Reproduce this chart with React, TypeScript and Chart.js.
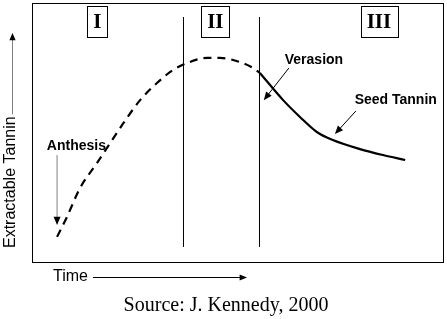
import React, { useEffect, useRef } from "react";
import { Chart, registerables } from "chart.js";

Chart.register(...registerables);

// Curve data (x: time 0-100, y: extractable tannin 0-100)
const dashedX = [6.1, 8.5, 11.7, 15.8, 19.0, 22.1, 26.3, 30.4, 34.3, 37.7, 42.6, 45.7, 50.6, 53.8, 55.5];
const dashedY = [9.7, 17.4, 28.6, 38.2, 45.9, 53.3, 62.5, 69.1, 74.1, 76.8, 78.8, 78.8, 77.2, 74.9, 72.9];
const solidX = [55.5, 61.1, 65.2, 69.3, 73.2, 79.8, 85.4, 90.8];
const solidY = [72.9, 62.5, 56.0, 50.2, 47.1, 43.6, 41.3, 39.4];

// Stage boundaries
const stageX = [36.86, 55.35];
const stageYRange = [5.8, 94.6];

// Stage labels
const stageLabels = ["I", "II", "III"];
const stageLabelX = [15.9, 44.6, 84.4];
const stageLabelY = 92.7;

// Annotations: text, text position, arrow from, arrow to
const noteText = ["Anthesis", "Verasion", "Seed Tannin"];
const noteX = [10.8, 68.6, 98.5];
const noteY = [44.8, 78.0, 62.5];
const noteAlign = ["center", "center", "right"];
const arrowFromX = [6.1, 62.5, 78.8];
const arrowFromY = [41.3, 74.9, 58.3];
const arrowToX = [6.1, 56.4, 73.7];
const arrowToY = [14.3, 62.5, 49.4];
const arrowColor = ["#808080", "#000000", "#000000"];

const yTitle = "Extractable Tannin";
const xTitle = "Time";
const sourceText = "Source: J. Kennedy, 2000";

function arrow(ctx: CanvasRenderingContext2D, x1: number, y1: number, x2: number, y2: number, color: string, head = 8) {
  const ang = Math.atan2(y2 - y1, x2 - x1);
  ctx.save();
  ctx.strokeStyle = color;
  ctx.lineWidth = 1;
  ctx.beginPath();
  ctx.moveTo(x1, y1);
  ctx.lineTo(x2 - Math.cos(ang) * head * 0.8, y2 - Math.sin(ang) * head * 0.8);
  ctx.stroke();
  ctx.fillStyle = "#000";
  ctx.beginPath();
  ctx.moveTo(x2, y2);
  ctx.lineTo(x2 - head * Math.cos(ang - 0.4), y2 - head * Math.sin(ang - 0.4));
  ctx.lineTo(x2 - head * Math.cos(ang + 0.4), y2 - head * Math.sin(ang + 0.4));
  ctx.closePath();
  ctx.fill();
  ctx.restore();
}

const annotPlugin = {
  id: "annot",
  beforeDraw(chart: any) {
    const { ctx, width, height } = chart;
    ctx.save();
    ctx.fillStyle = "#fff";
    ctx.fillRect(0, 0, width, height);
    ctx.restore();
  },
  afterDraw(chart: any) {
    const { ctx, chartArea } = chart;
    const xs = chart.scales.x;
    const ys = chart.scales.y;
    const { left, top, right, bottom } = chartArea;
    ctx.save();
    // frame
    ctx.strokeStyle = "#000";
    ctx.lineWidth = 1;
    ctx.strokeRect(Math.round(left) + 0.5, Math.round(top) + 0.5, Math.round(right - left), Math.round(bottom - top));

    // stage labels in boxes
    ctx.font = "bold 21px 'Liberation Serif', 'Times New Roman', serif";
    ctx.textAlign = "center";
    ctx.textBaseline = "middle";
    stageLabels.forEach((s, i) => {
      const cx = xs.getPixelForValue(stageLabelX[i]);
      const cy = ys.getPixelForValue(stageLabelY);
      const w = ctx.measureText(s).width + 12;
      const h = 31;
      ctx.fillStyle = "#fff";
      ctx.fillRect(cx - w / 2, cy - h / 2, w, h);
      ctx.strokeRect(Math.round(cx - w / 2) + 0.5, Math.round(cy - h / 2) + 0.5, Math.round(w), h);
      ctx.fillStyle = "#000";
      ctx.fillText(s, cx, cy + 1);
    });

    // notes
    ctx.font = "bold 14px 'Liberation Sans', Arial, sans-serif";
    noteText.forEach((t, i) => {
      ctx.textAlign = noteAlign[i] as CanvasTextAlign;
      ctx.fillStyle = "#000";
      ctx.fillText(t, xs.getPixelForValue(noteX[i]), ys.getPixelForValue(noteY[i]));
      arrow(
        ctx,
        xs.getPixelForValue(arrowFromX[i]),
        ys.getPixelForValue(arrowFromY[i]),
        xs.getPixelForValue(arrowToX[i]),
        ys.getPixelForValue(arrowToY[i]),
        arrowColor[i],
        9
      );
    });

    // y title with arrow
    ctx.font = "16px 'Liberation Sans', Arial, sans-serif";
    ctx.fillStyle = "#000";
    ctx.save();
    ctx.translate(left - 21, bottom - 14);
    ctx.rotate(-Math.PI / 2);
    ctx.textAlign = "left";
    ctx.textBaseline = "middle";
    ctx.fillText(yTitle, 0, 0);
    const tw = ctx.measureText(yTitle).width;
    ctx.restore();
    arrow(ctx, left - 19.5, bottom - 14 - tw - 2, left - 19.5, top + 30, "#808080", 8);

    // x title with arrow
    ctx.textAlign = "left";
    ctx.textBaseline = "middle";
    ctx.fillText(xTitle, left + 21, bottom + 15);
    const xw = ctx.measureText(xTitle).width;
    arrow(ctx, left + 21 + xw + 5, bottom + 15.5, left + 215, bottom + 15.5, "#000", 8);

    // source
    ctx.font = "20px 'Liberation Serif', 'Times New Roman', serif";
    ctx.textAlign = "center";
    ctx.fillText(sourceText, 226, bottom + 44);
    ctx.restore();
  },
};

export default function App() {
  const ref = useRef<HTMLCanvasElement>(null);
  useEffect(() => {
    if (!ref.current) return;
    const chart = new Chart(ref.current, {
      type: "line",
      data: {
        datasets: [
          {
            data: dashedX.map((x, i) => ({ x, y: dashedY[i] })),
            borderColor: "#000",
            borderWidth: 2.2,
            borderDash: [8, 6],
            pointRadius: 0,
            cubicInterpolationMode: "monotone",
            fill: false,
          },
          {
            data: solidX.map((x, i) => ({ x, y: solidY[i] })),
            borderColor: "#000",
            borderWidth: 2.2,
            pointRadius: 0,
            cubicInterpolationMode: "monotone",
            fill: false,
          },
          ...stageX.map((sx) => ({
            data: stageYRange.map((y) => ({ x: sx, y })),
            borderColor: "#000",
            borderWidth: 1,
            pointRadius: 0,
            fill: false,
          })),
        ],
      },
      options: {
        responsive: false,
        animation: false,
        layout: { padding: { left: 32, top: 3, right: 4, bottom: 57 } },
        plugins: { legend: { display: false }, tooltip: { enabled: false }, title: { display: false } },
        scales: {
          x: { type: "linear", min: 0, max: 100, display: false },
          y: { type: "linear", min: 0, max: 100, display: false },
        },
      },
      plugins: [annotPlugin],
    });
    return () => chart.destroy();
  }, []);
  return (
    <div style={{ position: "fixed", left: 0, top: 0, width: 447, height: 319, background: "#fff" }}>
      <canvas ref={ref} width={447} height={319} />
    </div>
  );
}
